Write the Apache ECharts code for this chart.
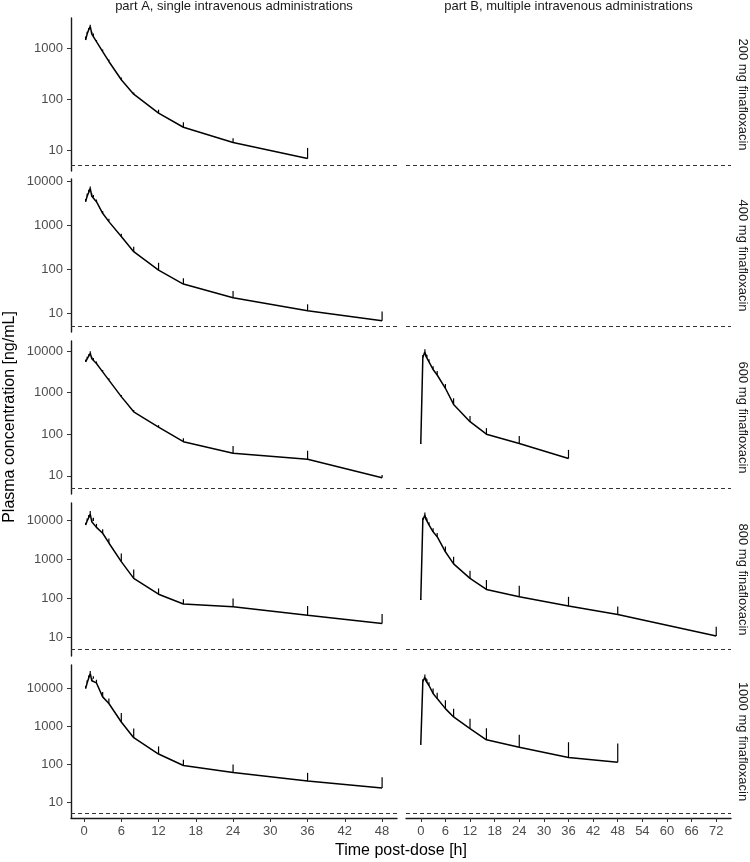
<!DOCTYPE html>
<html>
<head>
<meta charset="utf-8">
<script src="https://cdn.jsdelivr.net/npm/echarts@6/dist/echarts.min.js"></script>
<style>html,body{margin:0;padding:0;background:#fff}#c{width:750px;height:862px}</style>
</head>
<body>
<div id="c"></div>
<script>
// ---------- data ----------
const doseLabels = ['200 mg finafloxacin', '400 mg finafloxacin', '600 mg finafloxacin', '800 mg finafloxacin', '1000 mg finafloxacin'];
const partTitles = ['part A, single intravenous administrations', 'part B, multiple intravenous administrations'];
const xTitle = 'Time post-dose [h]';
const yTitle = 'Plasma concentration [ng/mL]';
const xTicksA = [0, 6, 12, 18, 24, 30, 36, 42, 48];
const xTicksB = [0, 6, 12, 18, 24, 30, 36, 42, 48, 54, 60, 66, 72];
const yTicks = [10, 100, 1000, 10000];
const lloq = 5;

const timeA = [0.25, 0.5, 0.75, 1, 1.25, 1.5, 2, 3, 4, 6, 8, 12, 16, 24, 36, 48];
const meanA200  = [1450, 1900, 2300, 2700, 1900, 1750, 1350, 860, 550, 240, 125, 53, 28, 14, 6.8, null];
const upperA200 = [1700, 2100, 2500, 2900, 2100, 1950, 1450, 950, 600, 265, 135, 62, 35, 17, 11, null];
const meanA400  = [3400, 4500, 5500, 6800, 4500, 4200, 3400, 1850, 1200, 550, 250, 95, 46, 22.6, 11.5, 6.8];
const upperA400 = [3900, 5200, 6300, 7500, 5200, 4800, 3800, 2100, 1400, 640, 325, 140, 62, 32, 16, 11];
const meanA600  = [5500, 6500, 7500, 8800, 6500, 6000, 5000, 3150, 2000, 800, 345, 148, 66, 35, 25, 9];
const upperA600 = [6200, 7300, 8300, 9800, 7300, 6800, 5600, 3500, 2200, 880, 380, 165, 80, 52, 40, 10.5];
const meanA800  = [7450, 9500, 11500, 14200, 9000, 9500, 6500, 4600, 2600, 870, 325, 128, 72, 61, 37, 23];
const upperA800 = [8500, 11000, 13500, 17000, 11000, 11500, 8000, 5800, 3400, 1400, 550, 180, 95, 100, 64, 40];
const meanA1000  = [10000, 14000, 19000, 25000, 16000, 18000, 14000, 6000, 4000, 1300, 500, 185, 92, 60, 36, 23.5];
const upperA1000 = [11500, 16500, 22000, 29000, 19000, 21000, 17000, 8100, 5400, 2250, 870, 295, 130, 98, 59, 45];

const timeB = [0, 0.5, 1, 1.25, 1.5, 2, 3, 4, 6, 8, 12, 16, 24, 36, 48, 72];
const meanB600  = [58, 7000, 9600, 7500, 7000, 5500, 3600, 2650, 1270, 520, 200, 100, 60, 26, null, null];
const upperB600 = [60, 8000, 11000, 8500, 8000, 6300, 4300, 3300, 1600, 730, 275, 140, 91, 42, null, null];
const meanB800  = [91, 10000, 13400, 10500, 9500, 7500, 5000, 3750, 1550, 760, 325, 170, 110, 64, 39, 11];
const upperB800 = [95, 11500, 15500, 12000, 11000, 8800, 6200, 4700, 2100, 1160, 510, 295, 210, 110, 62, 19];
const meanB1000  = [325, 15000, 20000, 16000, 15000, 12000, 7400, 5400, 2930, 1770, 870, 440, 280, 150, 112, null];
const upperB1000 = [340, 17500, 23500, 19000, 17500, 14500, 10000, 7700, 4900, 2930, 1590, 890, 600, 380, 350, null];

const panelsA = [[meanA200, upperA200], [meanA400, upperA400], [meanA600, upperA600], [meanA800, upperA800], [meanA1000, upperA1000]];
const panelsB = [null, null, [meanB600, upperB600], [meanB800, upperB800], [meanB1000, upperB1000]];

// ---------- layout ----------
const FONT = 'Liberation Sans, Arial, sans-serif';
const rowTop = [18, 179, 341, 503, 665];
const rowH = 153;
const colLeft = [71, 406];
const colW = [326, 325];
const xRange = [[-2.1, 50.4], [-3.6, 75.6]];
const yRange = [[3.87, 3930], [3.77, 11100], [3.65, 17400], [3.40, 27200], [3.78, 41700]];
const plain = v => String(Math.round(v));

const grids = [], xAxes = [], yAxes = [], series = [];
let gi = 0;
for (let r = 0; r < 5; r++) {
  for (let c = 0; c < 2; c++) {
    grids.push({left: colLeft[c], top: rowTop[r], width: colW[c], height: rowH, containLabel: false});
    const last = r === 4;
    const xt = c === 0 ? xTicksA : xTicksB;
    xAxes.push({
      type: 'value', gridIndex: gi, min: xRange[c][0], max: xRange[c][1], position: 'bottom',
      show: last,
      axisLine: {show: last, onZero: false, lineStyle: {color: '#1a1a1a', width: 1.4}},
      axisTick: {show: last, length: 4, lineStyle: {color: '#333', width: 1}, customValues: xt},
      axisLabel: {show: last, customValues: xt, margin: 7, fontSize: 13, color: '#4d4d4d', fontFamily: FONT, formatter: plain},
      splitLine: {show: false}
    });
    const yt = yTicks.filter(v => v >= yRange[r][0] && v <= yRange[r][1]);
    yAxes.push({
      type: 'log', logBase: 10, gridIndex: gi, min: yRange[r][0], max: yRange[r][1], position: 'left',
      show: c === 0,
      axisLine: {show: c === 0, onZero: false, lineStyle: {color: '#1a1a1a', width: 1.4}},
      axisTick: {show: c === 0, length: 4, lineStyle: {color: '#333', width: 1}, customValues: yt},
      axisLabel: {show: c === 0, customValues: yt, margin: 8, fontSize: 13, color: '#4d4d4d', fontFamily: FONT, formatter: plain},
      splitLine: {show: false}, minorTick: {show: false}, minorSplitLine: {show: false}
    });
    const p = c === 0 ? panelsA[r] : panelsB[r];
    const times = c === 0 ? timeA : timeB;
    const lineData = [], errData = [];
    if (p) {
      times.forEach((t, i) => {
        if (p[0][i] != null) {
          lineData.push([t, p[0][i]]);
          errData.push([t, p[0][i], p[1][i]]);
        }
      });
    }
    series.push({
      type: 'line', xAxisIndex: gi, yAxisIndex: gi, data: lineData,
      symbol: 'none', silent: true, animation: false,
      lineStyle: {color: '#000', width: 1.5},
      markLine: {
        silent: true, symbol: 'none', animation: false,
        label: {show: false},
        lineStyle: {type: [4, 3], color: '#333', width: 1},
        data: [{yAxis: lloq}]
      }
    });
    series.push({
      type: 'custom', xAxisIndex: gi, yAxisIndex: gi, data: errData, silent: true, animation: false,
      encode: {x: 0, y: [1, 2]},
      renderItem: function (params, api) {
        const a = api.coord([api.value(0), api.value(1)]);
        const b = api.coord([api.value(0), api.value(2)]);
        return {type: 'line', shape: {x1: a[0], y1: a[1], x2: b[0], y2: b[1]}, style: {stroke: '#000', lineWidth: 1.2}};
      }
    });
    gi++;
  }
}

const graphics = [];
partTitles.forEach((t, c) => {
  graphics.push({type: 'text', x: colLeft[c] + colW[c] / 2, y: 6,
    style: {text: t, fontSize: 13, fill: '#1a1a1a', fontFamily: FONT, textAlign: 'center', textVerticalAlign: 'middle'}});
});
doseLabels.forEach((t, r) => {
  graphics.push({type: 'text', x: 743, y: rowTop[r] + rowH / 2, rotation: -Math.PI / 2,
    style: {text: t, fontSize: 13, fill: '#1a1a1a', fontFamily: FONT, textAlign: 'center', textVerticalAlign: 'middle'}});
});
graphics.push({type: 'text', x: 401, y: 851,
  style: {text: xTitle, fontSize: 16, fill: '#000', fontFamily: FONT, textAlign: 'center', textVerticalAlign: 'middle'}});
graphics.push({type: 'text', x: 10, y: 417, rotation: Math.PI / 2,
  style: {text: yTitle, fontSize: 16, fill: '#000', fontFamily: FONT, textAlign: 'center', textVerticalAlign: 'middle'}});

const chart = echarts.init(document.getElementById('c'), null, {renderer: 'canvas'});
chart.setOption({
  animation: false,
  backgroundColor: '#fff',
  grid: grids, xAxis: xAxes, yAxis: yAxes, series: series,
  graphic: graphics
});
</script>
</body>
</html>
